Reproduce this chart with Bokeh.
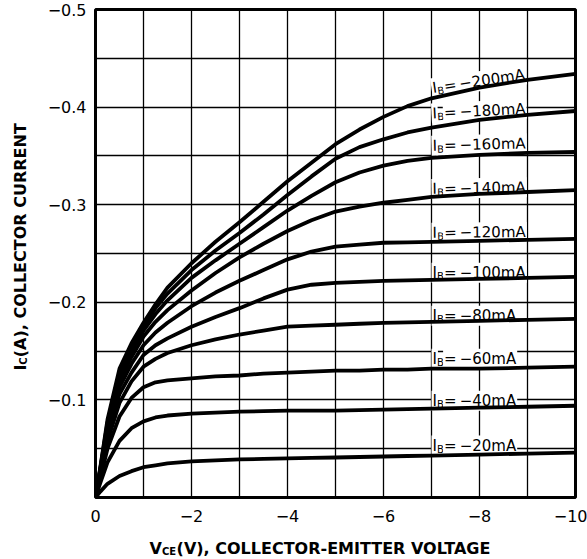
import math
from bokeh.plotting import figure
from bokeh.layouts import column, row
from bokeh.models import Range1d, FixedTicker, Label
from bokeh.core.properties import value
from bokeh.embed import file_html
from bokeh.resources import INLINE

# ---------------- data (magnitudes) ----------------
vce_mag = [0, 0.1, 0.25, 0.5, 0.75, 1, 1.25, 1.5, 2, 2.5, 3, 3.5, 4, 4.5, 5, 5.5, 6, 6.5, 7, 8, 9, 10]   # -V_CE (V)

ib_ma = [20, 40, 60, 80, 100, 120, 140, 160, 180, 200]                         # -I_B (mA)

ic_ib20  = [0, 0.006, 0.014, 0.022, 0.027, 0.031, 0.033, 0.035, 0.037, 0.038, 0.039, 0.0395, 0.040, 0.0405, 0.041, 0.0415, 0.042, 0.0425, 0.043, 0.044, 0.045, 0.046]
ic_ib40  = [0, 0.015, 0.036, 0.058, 0.071, 0.078, 0.082, 0.084, 0.086, 0.087, 0.088, 0.0885, 0.089, 0.089, 0.089, 0.0895, 0.090, 0.0905, 0.091, 0.092, 0.093, 0.094]
ic_ib60  = [0, 0.020, 0.050, 0.083, 0.102, 0.113, 0.118, 0.120, 0.122, 0.124, 0.125, 0.127, 0.128, 0.129, 0.130, 0.130, 0.131, 0.131, 0.132, 0.132, 0.133, 0.134]
ic_ib80  = [0, 0.023, 0.058, 0.097, 0.119, 0.134, 0.142, 0.148, 0.156, 0.162, 0.167, 0.171, 0.175, 0.176, 0.177, 0.178, 0.179, 0.1795, 0.180, 0.181, 0.182, 0.183]
ic_ib100 = [0, 0.025, 0.063, 0.106, 0.128, 0.146, 0.156, 0.163, 0.175, 0.185, 0.194, 0.204, 0.213, 0.218, 0.220, 0.221, 0.222, 0.2225, 0.223, 0.224, 0.225, 0.226]
ic_ib120 = [0, 0.027, 0.067, 0.113, 0.137, 0.156, 0.169, 0.179, 0.196, 0.210, 0.222, 0.233, 0.244, 0.252, 0.257, 0.259, 0.261, 0.2615, 0.262, 0.263, 0.264, 0.265]
ic_ib140 = [0, 0.028, 0.071, 0.119, 0.144, 0.165, 0.180, 0.192, 0.212, 0.230, 0.246, 0.260, 0.273, 0.284, 0.293, 0.298, 0.302, 0.305, 0.308, 0.311, 0.313, 0.315]
ic_ib160 = [0, 0.029, 0.074, 0.124, 0.150, 0.171, 0.188, 0.202, 0.225, 0.243, 0.260, 0.277, 0.294, 0.309, 0.323, 0.333, 0.340, 0.345, 0.348, 0.351, 0.353, 0.354]
ic_ib180 = [0, 0.030, 0.077, 0.128, 0.154, 0.175, 0.194, 0.209, 0.233, 0.253, 0.271, 0.290, 0.310, 0.329, 0.347, 0.359, 0.367, 0.374, 0.379, 0.387, 0.392, 0.396]
ic_ib200 = [0, 0.031, 0.080, 0.132, 0.158, 0.179, 0.198, 0.215, 0.240, 0.262, 0.282, 0.303, 0.324, 0.343, 0.362, 0.377, 0.390, 0.401, 0.409, 0.420, 0.428, 0.434]

curves = [ic_ib20, ic_ib40, ic_ib60, ic_ib80, ic_ib100,
          ic_ib120, ic_ib140, ic_ib160, ic_ib180, ic_ib200]

x_tick_values = [0, -2, -4, -6, -8, -10]
x_tick_labels = ["0", "\u22122", "\u22124", "\u22126", "\u22128", "\u221210"]
y_tick_values = [-0.1, -0.2, -0.3, -0.4, -0.5]
y_tick_labels = ["\u22120.1", "\u22120.2", "\u22120.3", "\u22120.4", "\u22120.5"]

x_title = ("V", "CE", "(V), COLLECTOR-EMITTER VOLTAGE")
y_title = ("I", "C", "(A), COLLECTOR CURRENT")

# ---------------- layout / style ----------------
TOTAL_W, TOTAL_H = 587, 559
YW = 34                     # strip for the y title
FL, FW, FT, FH = 95 - YW, 480, 9, 488
FR = TOTAL_W - YW - FL - FW
FB = 33
MAIN_H = FT + FH + FB
XH = TOTAL_H - MAIN_H       # strip for the x title
PXV = FW / 10.0
PXA = FH / 0.5

label_angle_deg = [0, 0, 0, 0, 0, 0.5, 1.0, 1.5, 3.0, 8.5]
label_lift_px = [10, 8, 10, 6, 7, 9, 8, 12, 14, 10]

FONT = "DejaVu Sans"

p = figure(x_range=Range1d(0, -10), y_range=Range1d(0, -0.5),
           frame_width=FW, frame_height=FH,
           min_border_left=FL, min_border_right=FR, min_border_top=FT, min_border_bottom=FB,
           output_backend="svg", toolbar_location=None)
p.background_fill_color = "white"
p.border_fill_color = "white"
p.outline_line_color = "black"
p.outline_line_width = 3

for ax in (p.xaxis[0], p.yaxis[0]):
    ax.axis_line_color = None
    ax.major_tick_line_color = None
    ax.minor_tick_line_color = None
    ax.major_tick_in = 0
    ax.major_tick_out = 0
    ax.minor_tick_in = 0
    ax.minor_tick_out = 0
    ax.major_label_text_font = FONT
    ax.major_label_text_font_size = "16px"
    ax.major_label_text_line_height = 1.0
    ax.major_label_text_color = "black"

p.xaxis.ticker = FixedTicker(ticks=x_tick_values)
p.xaxis.major_label_overrides = dict(zip(x_tick_values, x_tick_labels))
p.xaxis.major_label_standoff = 12
p.yaxis.ticker = FixedTicker(ticks=y_tick_values)
p.yaxis.major_label_overrides = dict(zip(y_tick_values, y_tick_labels))
p.yaxis.major_label_standoff = 9

p.xgrid.ticker = FixedTicker(ticks=[-float(k) for k in range(0, 11)])
p.ygrid.ticker = FixedTicker(ticks=[-0.05 * k for k in range(1, 11)])
p.grid.grid_line_color = "black"
p.grid.grid_line_width = 1.3
p.grid.grid_line_alpha = 1.0

xs = [-v for v in vce_mag]
for ic in curves:
    p.line(xs, [-c for c in ic], line_color="black", line_width=3.8,
           line_join="round", line_cap="round")


def piece(x0, y0, adv, drop, ang, text, size):
    dx = adv * math.cos(ang) + drop * math.sin(ang)
    dy = adv * math.sin(ang) - drop * math.cos(ang)
    lab = Label(x=x0 - dx / PXV, y=y0 - dy / PXA, text=text, angle=ang,
                text_font=FONT, text_font_size=f"{size}px",
                text_color="black", text_align="left", text_baseline="alphabetic",
                background_fill_color="white", padding=1, level="underlay")
    p.add_layout(lab)


# curve labels  I_B = -xxx mA
i7 = vce_mag.index(7)
for k, ma in enumerate(ib_ma):
    ang = math.radians(label_angle_deg[k])
    x0 = -7.0
    y0 = -curves[k][i7] - label_lift_px[k] / PXA
    piece(x0, y0, 0, 0, ang, "I", 15)
    piece(x0, y0, 4.6, 3.5, ang, "B", 10)
    piece(x0, y0, 11.6, 0, ang, "=\u2009\u2212" + str(ma) + "mA", 15)


def strip(w, h, **kw):
    f = figure(width=w, height=h, x_range=Range1d(0, w), y_range=Range1d(0, h),
               x_axis_location=None, y_axis_location=None,
               min_border_left=0, min_border_right=0, min_border_top=0, min_border_bottom=0,
               output_backend="svg", toolbar_location=None, **kw)
    f.outline_line_color = None
    f.background_fill_color = "white"
    f.border_fill_color = "white"
    f.grid.grid_line_color = None
    return f


# y title strip (left)
yfig = strip(YW, MAIN_H)
yb = MAIN_H - 392          # start of the text (bottom end), in strip pixels, y up
yfig.text(x=[20, 23, 20], y=[yb, yb + 6.3, yb + 14.3], text=list(y_title),
          angle=math.pi / 2, text_font=value(FONT), text_font_style="bold",
          text_font_size=value("16px"), text_baseline="alphabetic", text_align="left",
          text_color="black")
yfig.renderers[-1].glyph.text_font_size = "fs"
yfig.renderers[-1].data_source.data["fs"] = ["16px", "10px", "16px"]

# x title strip (bottom)
xfig = strip(TOTAL_W, XH, title=None)
xb = TOTAL_H - 548         # baseline, strip pixels from bottom
xfig.text(x=[149, 161.4, 176.1], y=[xb, xb - 3, xb], text=list(x_title),
          text_font=value(FONT), text_font_style="bold",
          text_font_size=value("16px"), text_baseline="alphabetic", text_align="left",
          text_color="black")
xfig.renderers[-1].glyph.text_font_size = "fs"
xfig.renderers[-1].data_source.data["fs"] = ["16px", "10px", "16px"]

layout = column(row(yfig, p, spacing=0), xfig, spacing=0)
open("out.html", "w").write(file_html(layout, INLINE))
